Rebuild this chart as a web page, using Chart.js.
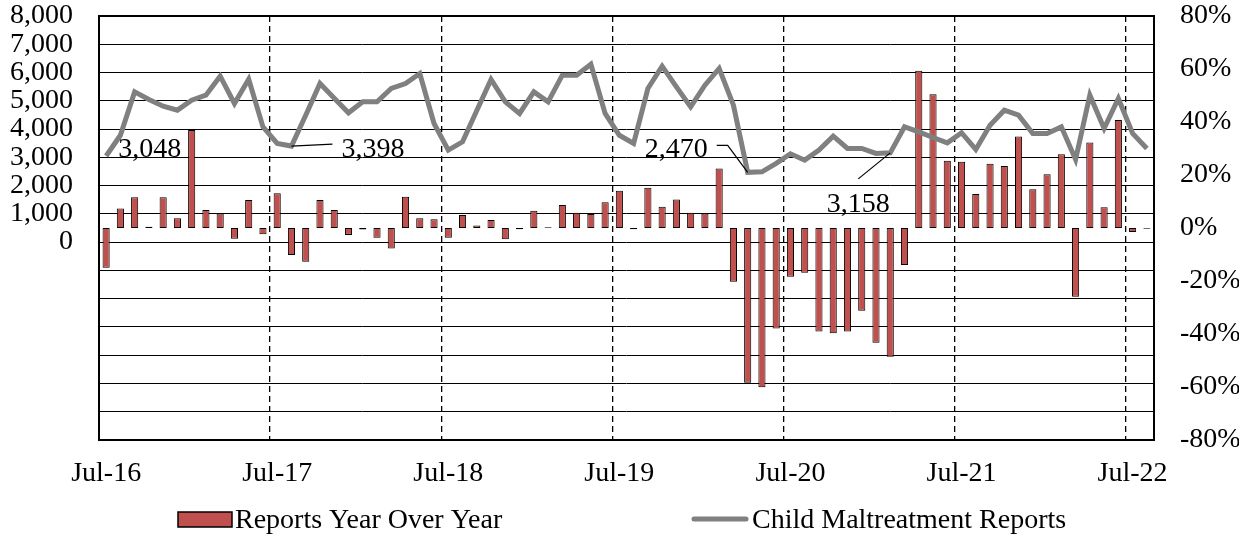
<!DOCTYPE html>
<html>
<head>
<meta charset="utf-8">
<script src="https://cdn.jsdelivr.net/npm/chart.js@4/dist/chart.umd.min.js"></script>
<style>
  body { margin: 0; background: #fff; }
  #wrap { width: 1239px; height: 536px; position: relative; }
</style>
</head>
<body>
<div id="wrap"><canvas id="reportsChart"></canvas></div>
<script>
// months Jul-16 .. Aug-22
const months = [
  'Jul-16','Aug-16','Sep-16','Oct-16','Nov-16','Dec-16','Jan-17','Feb-17','Mar-17','Apr-17','May-17','Jun-17',
  'Jul-17','Aug-17','Sep-17','Oct-17','Nov-17','Dec-17','Jan-18','Feb-18','Mar-18','Apr-18','May-18','Jun-18',
  'Jul-18','Aug-18','Sep-18','Oct-18','Nov-18','Dec-18','Jan-19','Feb-19','Mar-19','Apr-19','May-19','Jun-19',
  'Jul-19','Aug-19','Sep-19','Oct-19','Nov-19','Dec-19','Jan-20','Feb-20','Mar-20','Apr-20','May-20','Jun-20',
  'Jul-20','Aug-20','Sep-20','Oct-20','Nov-20','Dec-20','Jan-21','Feb-21','Mar-21','Apr-21','May-21','Jun-21',
  'Jul-21','Aug-21','Sep-21','Oct-21','Nov-21','Dec-21','Jan-22','Feb-22','Mar-22','Apr-22','May-22','Jun-22',
  'Jul-22','Aug-22'
];

// Child Maltreatment Reports (left axis)
const reports = [
  3048, 3780, 5316, 5046, 4810, 4669, 5022, 5200, 5871, 4905, 5765, 4078,
  3490, 3398, 4490, 5612, 5093, 4574, 4963, 4963, 5435, 5612, 5966, 4197,
  3254, 3548, 4658, 5755, 4963, 4551, 5316, 4963, 5907, 5907, 6296, 4551,
  3780, 3490, 5435, 6225, 5494, 4786, 5553, 6143, 4846, 2470, 2487, 2784,
  3125, 2900, 3254, 3749, 3313, 3313, 3137, 3158, 4078, 3902, 3702, 3513,
  3870, 3278, 4138, 4669, 4492, 3844, 3844, 4078, 2924, 5200, 4020, 5083,
  3844, 3313
];

// Reports Year Over Year, percent (right axis)
const yoy = [
  -15.0, 7.4, 11.6, 0.5, 11.6, 3.7, 37.0, 6.8, 5.5, -4.1, 10.6, -2.4,
  13.1, -10.2, -12.7, 10.6, 6.8, -2.6, -0.6, -3.7, -7.7, 11.8, 3.7, 3.3,
  -3.7, 4.9, 0.9, 3.0, -4.2, -0.5, 6.5, 0.3, 8.7, 5.8, 5.3, 9.7,
  14.1, -0.5, 15.2, 8.0, 10.8, 5.8, 5.5, 22.5, -20.3, -58.4, -60.1, -37.9,
  -18.4, -16.9, -39.1, -39.7, -39.1, -31.2, -43.3, -48.6, -14.0, 59.3, 50.5, 25.4,
  25.0, 12.8, 24.2, 23.4, 34.5, 14.6, 20.3, 27.8, -25.9, 32.3, 7.8, 40.8,
  -1.5, -0.3
];

// labelled points on the line
const calloutIndex = [0, 13, 45, 55];

const serif = "'Liberation Serif', 'Times New Roman', serif";
Chart.defaults.font.family = serif;
Chart.defaults.font.size = 28;
Chart.defaults.color = '#000';

const fmt = v => v.toLocaleString('en-US');

// frame round the plot area
const framePlugin = {
  id: 'frame',
  afterDatasetsDraw(chart) {
    const a = chart.chartArea, ctx = chart.ctx;
    ctx.save();
    ctx.strokeStyle = '#000';
    ctx.lineWidth = 2;
    ctx.strokeRect(a.left, a.top, a.right - a.left, a.bottom - a.top);
    ctx.restore();
  }
};

// value callouts with leader lines
const calloutPlugin = {
  id: 'callouts',
  afterDatasetsDraw(chart) {
    const ctx = chart.ctx, x = chart.scales.x, y = chart.scales.y;
    // offsets from the point: text position, alignment, leader path
    const layout = {
      0:  { dx: 12, dy: 1, align: 'left', leader: [] },
      13: { dx: 50, dy: 11, align: 'left', leader: [[0, 0], [41, -2]] },
      45: { dx: -40, dy: -15, align: 'right', leader: [[0, 0], [-20, -27], [-31, -27]] },
      55: { dx: -32, dy: 59, align: 'center', leader: [[0, 0], [-32, 26]] }
    };
    ctx.save();
    ctx.font = '28px ' + serif;
    ctx.fillStyle = '#000';
    ctx.strokeStyle = '#000';
    ctx.lineWidth = 1.2;
    calloutIndex.forEach(i => {
      const px = x.getPixelForValue(i), py = y.getPixelForValue(reports[i]);
      const l = layout[i];
      if (l.leader.length) {
        ctx.beginPath();
        l.leader.forEach((p, k) => {
          if (k === 0) ctx.moveTo(px + p[0], py + p[1]);
          else ctx.lineTo(px + p[0], py + p[1]);
        });
        ctx.stroke();
      }
      ctx.textAlign = l.align;
      ctx.textBaseline = 'alphabetic';
      ctx.fillText(fmt(reports[i]), px + l.dx, py + l.dy);
    });
    ctx.restore();
  }
};

// legend drawn below the axis
const legendPlugin = {
  id: 'bottomLegend',
  afterDraw(chart) {
    const ctx = chart.ctx;
    const bars = chart.data.datasets[1], line = chart.data.datasets[0];
    ctx.save();
    ctx.font = '28px ' + serif;
    ctx.textAlign = 'left';
    ctx.textBaseline = 'alphabetic';
    ctx.fillStyle = bars.backgroundColor;
    ctx.fillRect(178, 512, 54, 15);
    ctx.strokeStyle = '#000';
    ctx.lineWidth = 1.5;
    ctx.strokeRect(178, 512, 54, 15);
    ctx.fillStyle = '#000';
    ctx.fillText(bars.label, 235, 528);
    ctx.strokeStyle = line.borderColor;
    ctx.lineWidth = 5;
    ctx.lineCap = 'round';
    ctx.beginPath();
    ctx.moveTo(694, 519);
    ctx.lineTo(746, 519);
    ctx.stroke();
    ctx.fillText(line.label, 752, 528);
    ctx.restore();
  }
};

// keep both value axes the same height as the plot frame
const fitValueAxis = w => s => {
  s.width = w;
  s.paddingTop = 16;
  s.paddingBottom = 0;
};

new Chart(document.getElementById('reportsChart'), {
  data: {
    labels: months,
    datasets: [{
      type: 'line',
      label: 'Child Maltreatment Reports',
      data: reports,
      yAxisID: 'y',
      borderColor: '#808080',
      backgroundColor: '#808080',
      borderWidth: 5,
      pointRadius: 0,
      tension: 0,
      order: 0
    }, {
      type: 'bar',
      label: 'Reports Year Over Year',
      data: yoy,
      yAxisID: 'y2',
      backgroundColor: '#C0504D',
      borderColor: '#000',
      borderWidth: 1,
      borderSkipped: false,
      barPercentage: 0.5,
      categoryPercentage: 1,
      order: 1
    }]
  },
  options: {
    responsive: true,
    maintainAspectRatio: false,
    animation: false,
    layout: { padding: 0 },
    plugins: {
      legend: { display: false },
      tooltip: { enabled: false }
    },
    scales: {
      x: {
        offset: true,
        grid: {
          offset: true,
          drawTicks: false,
          tickLength: 0,
          lineWidth: 1.3,
          color: c => (c.index % 12 === 0 && c.index > 0 && c.index < months.length) ? '#000' : 'rgba(0,0,0,0)'
        },
        border: { display: false, dash: [6, 4] },
        ticks: {
          autoSkip: false,
          maxRotation: 0,
          padding: 17,
          callback: (v, i) => i % 12 === 0 ? months[i] : ''
        },
        afterFit: s => { s.height = 96; }
      },
      y: {
        position: 'left',
        min: -7000,
        max: 8000,
        grid: { color: '#000', lineWidth: 1, drawTicks: false, tickLength: 0 },
        border: { display: false },
        ticks: {
          stepSize: 1000,
          autoSkip: false,
          padding: 26,
          callback: v => v >= 0 ? fmt(v) : ''
        },
        afterFit: fitValueAxis(99)
      },
      y2: {
        position: 'right',
        min: -80,
        max: 80,
        grid: { display: false, drawTicks: false, tickLength: 0 },
        border: { display: false },
        ticks: {
          stepSize: 20,
          autoSkip: false,
          padding: 26,
          callback: v => v + '%'
        },
        afterFit: fitValueAxis(85)
      }
    }
  },
  plugins: [framePlugin, calloutPlugin, legendPlugin]
});
</script>
</body>
</html>
